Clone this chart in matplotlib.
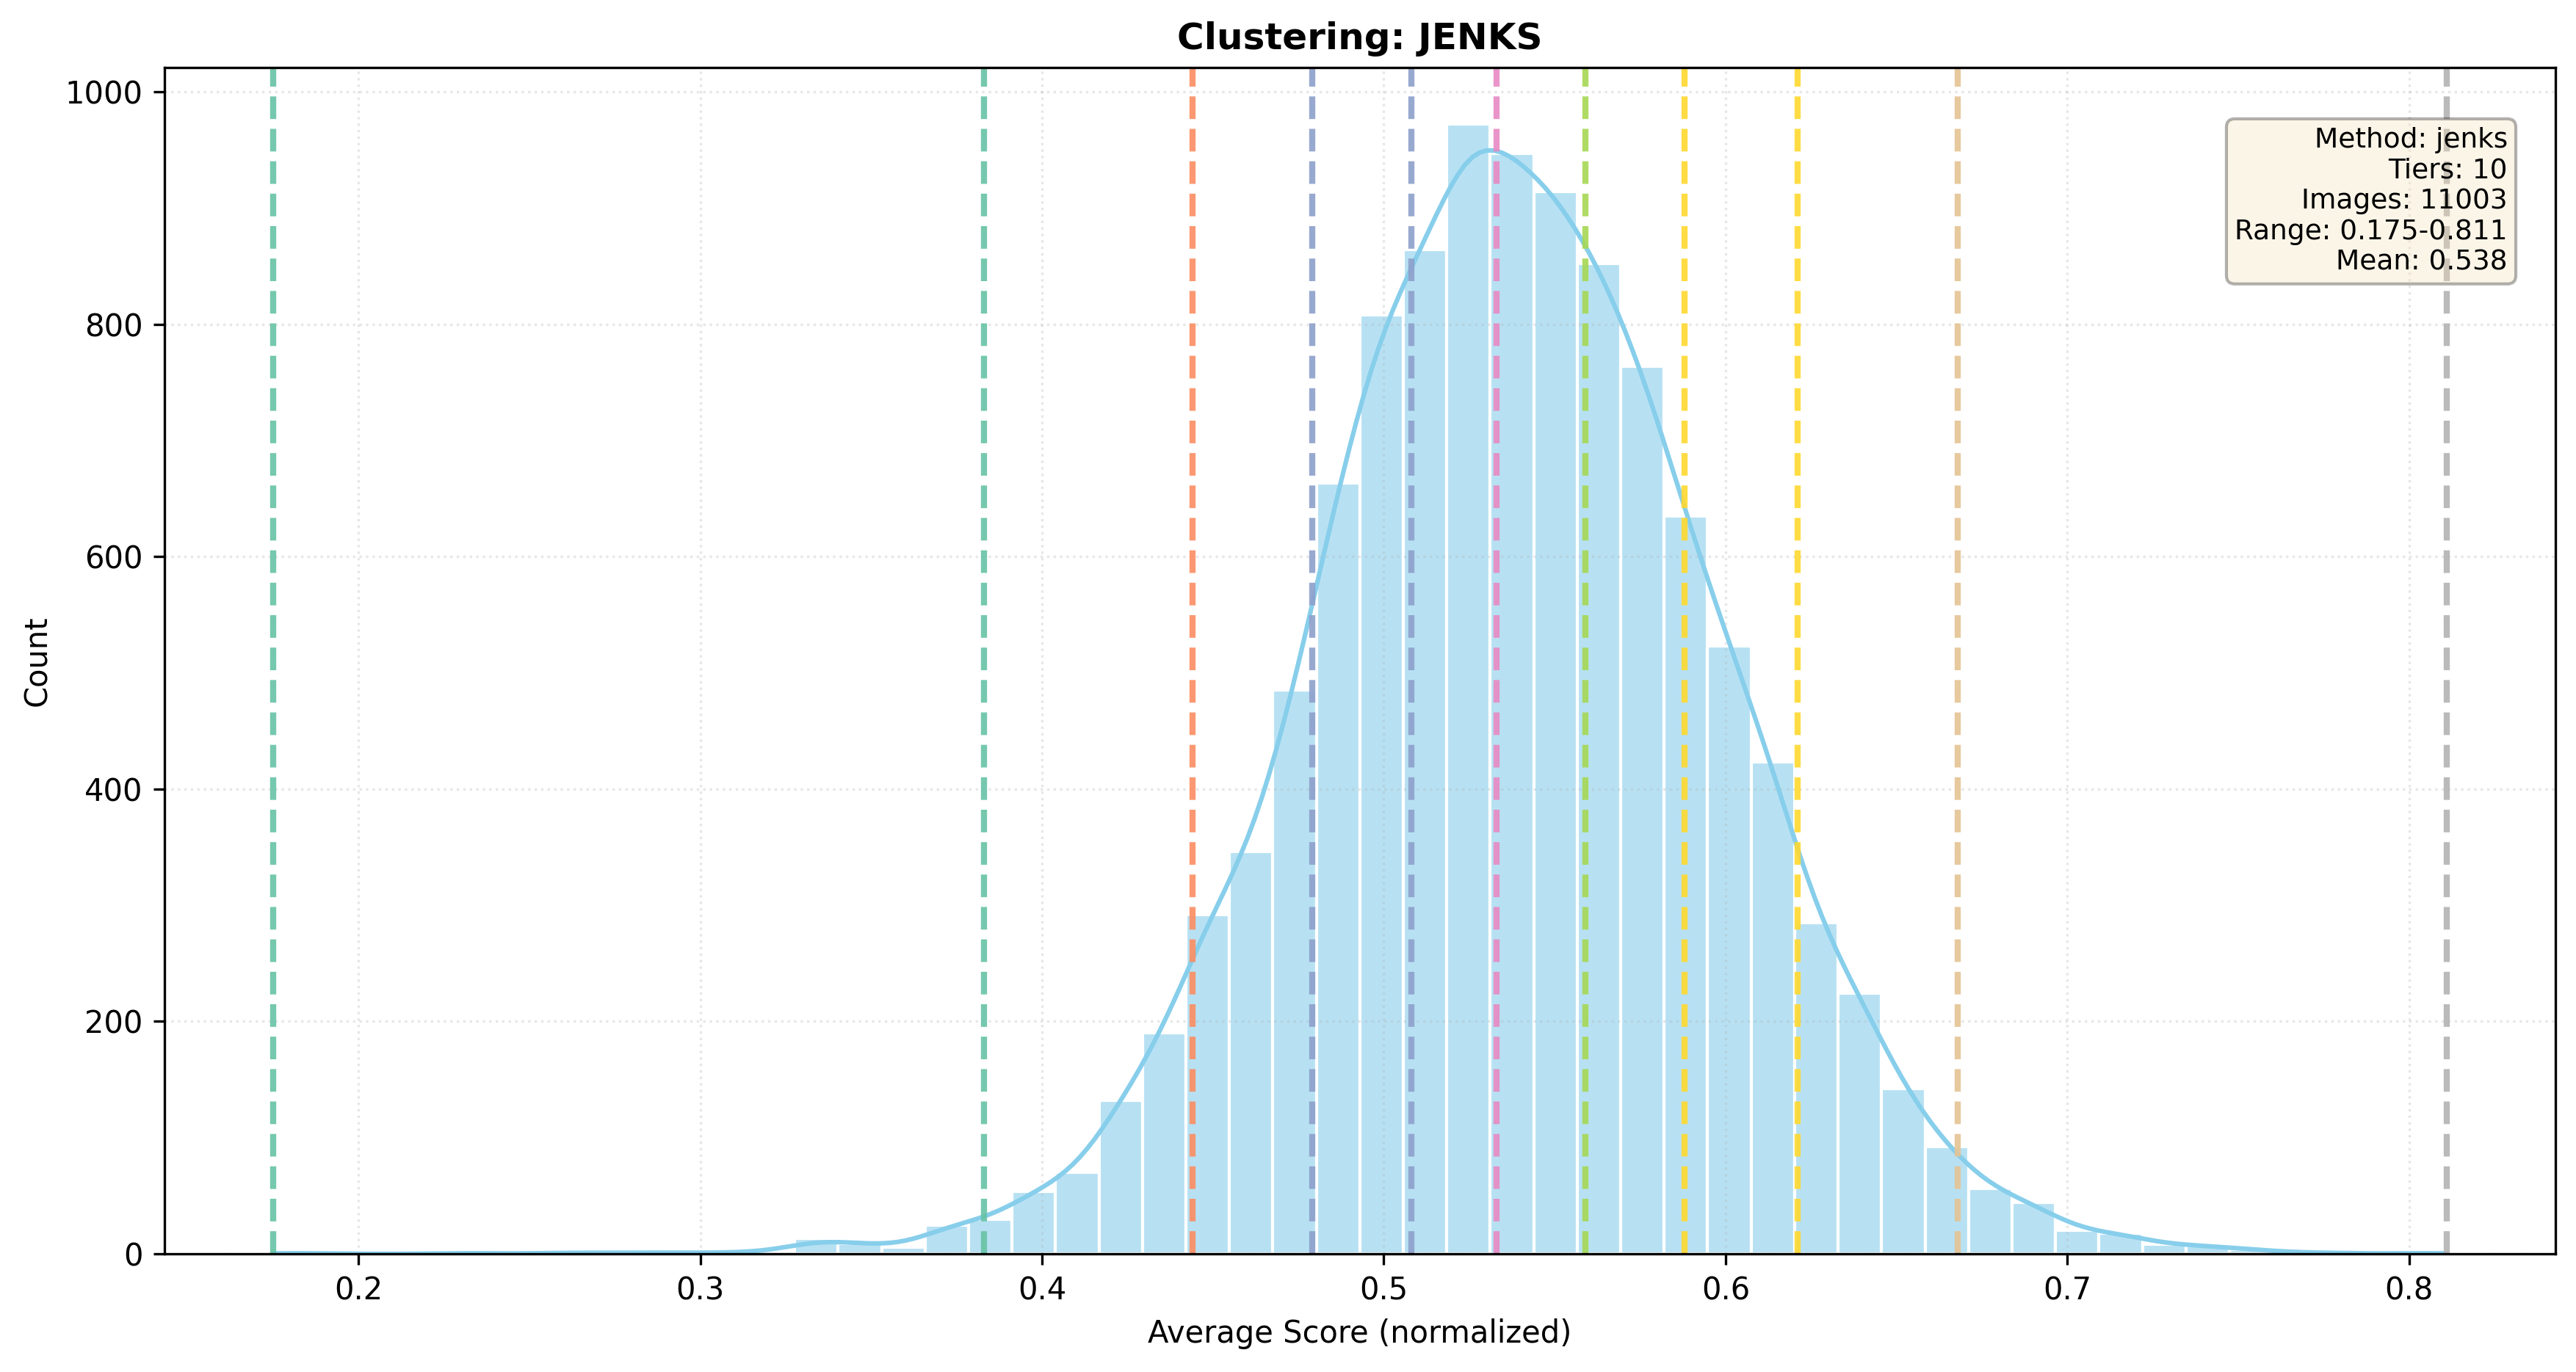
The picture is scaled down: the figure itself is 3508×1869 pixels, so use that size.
import numpy as np
import matplotlib
matplotlib.use("Agg")
import matplotlib.pyplot as plt
from matplotlib.colors import to_rgba

# histogram: 50 equal bins between the min and max score
score_min = 0.175
score_max = 0.811
n_bins = 50
bin_counts = [1, 0, 0, 0, 1, 0, 1, 1, 1, 1,
              1, 2, 13, 9, 6, 25, 30, 54, 70, 132,
              190, 292, 346, 485, 663, 808, 864, 972, 947, 914,
              852, 764, 635, 523, 423, 285, 224, 142, 92, 56,
              44, 20, 18, 8, 7, 4, 1, 1, 0, 1]

# jenks tier boundaries and line colours
tier_breaks = [0.175, 0.383, 0.444, 0.479, 0.508, 0.533, 0.559, 0.588, 0.621, 0.668, 0.811]
break_colors = ['#66c2a5', '#66c2a5', '#fc8d62', '#8da0cb', '#8da0cb', '#e78ac3',
                '#a6d854', '#ffd92f', '#ffd92f', '#e5c494', '#b3b3b3']

method = "jenks"
n_tiers = 10
n_images = 11003
mean_score = 0.538


def weighted_kde(centers, weights, grid):
    """Gaussian KDE of the binned scores (Scott bandwidth), scaled to counts."""
    n = weights.sum()
    mu = np.sum(weights * centers) / n
    sd = np.sqrt(np.sum(weights * (centers - mu) ** 2) / (n - 1))
    bw = sd * n ** (-1 / 5)
    diff = (grid[:, None] - centers[None, :]) / bw
    dens = np.sum(weights * np.exp(-0.5 * diff ** 2), axis=1) / (n * bw * np.sqrt(2 * np.pi))
    return dens


edges = np.linspace(score_min, score_max, n_bins + 1)
centers = (edges[:-1] + edges[1:]) / 2
counts = np.array(bin_counts, dtype=float)

fig = plt.figure(figsize=(3508 / 300, 1869 / 300), dpi=300)
ax = fig.add_axes([0.0638, 0.0861, 0.9282, 0.8645])

ax.hist(centers, bins=edges, weights=counts, color=to_rgba('skyblue', 0.6),
        edgecolor='white', linewidth=1.0)

xs = np.linspace(score_min, score_max, 300)
kde = weighted_kde(centers, counts, xs) * counts.sum() * (edges[1] - edges[0])
ax.plot(xs, kde, color='skyblue', linewidth=1.5)

for b, c in zip(tier_breaks, break_colors):
    ax.axvline(b, color=c, linestyle='--', linewidth=2, alpha=0.9)

ax.set_title(f"Clustering: {method.upper()}", fontsize=12, fontweight='bold')
ax.set_xlabel("Average Score (normalized)", fontsize=10)
ax.set_ylabel("Count", fontsize=10)
ax.grid(True, alpha=0.3, linestyle=':')

info = (f"Method: {method}\nTiers: {n_tiers}\nImages: {n_images}\n"
        f"Range: {score_min:.3f}-{score_max:.3f}\nMean: {mean_score:.3f}")
ax.text(0.98, 0.95, info, transform=ax.transAxes, ha='right', va='top', fontsize=9,
        bbox=dict(boxstyle='round', facecolor='wheat', alpha=0.3))

fig.savefig("out.png", dpi=300)
